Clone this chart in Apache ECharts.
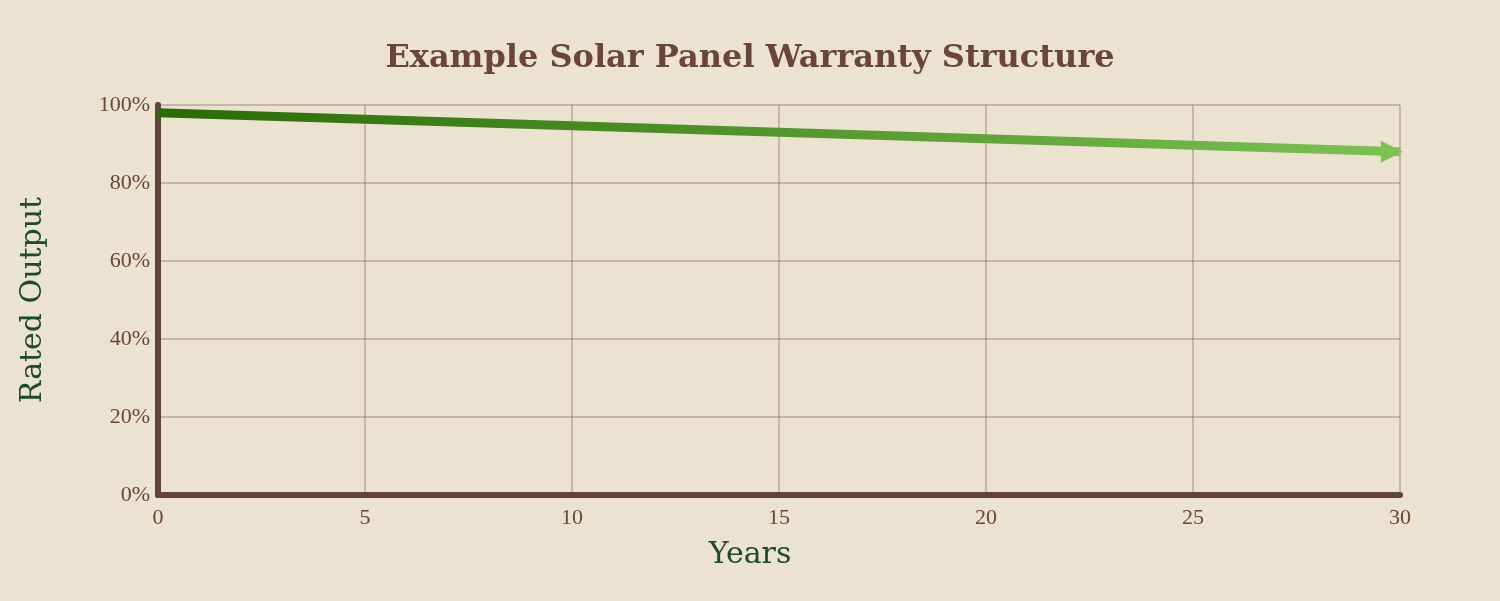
<!doctype html>
<html>
<head>
<meta charset="utf-8">
<title>Example Solar Panel Warranty Structure</title>
<style>
  html, body { margin: 0; padding: 0; background: #ebe2d0; }
  #main { width: 1500px; height: 601px; }
</style>
</head>
<body>
<div id="main"></div>
<script src="https://cdn.jsdelivr.net/npm/echarts@6/dist/echarts.min.js"></script>
<script>
var years = [0, 30];
var ratedOutput = [98, 88];
var yearTicks = [0, 5, 10, 15, 20, 25, 30];
var percentTicks = [0, 20, 40, 60, 80, 100];

var chart = echarts.init(document.getElementById('main'));
var brown = '#634337';
var gridColor = 'rgba(120,100,90,0.45)';

chart.setOption({
    backgroundColor: '#ebe2d0',
    title: {
        text: 'Example Solar Panel Warranty Structure',
        left: 'center',
        top: 38,
        textStyle: { fontFamily: 'DejaVu Serif', fontWeight: 'bold', fontSize: 32, color: '#6b4535' }
    },
    graphic: [{
        type: 'text',
        left: 'center',
        top: 540,
        style: { text: 'Years', fontFamily: 'DejaVu Serif', fontSize: 30, fill: '#1f4a2a' }
    }],
    grid: { left: 158, right: 100, top: 105, bottom: 106 },
    xAxis: {
        type: 'value',
        min: yearTicks[0],
        max: yearTicks[yearTicks.length - 1],
        interval: 5,
        axisLine: { lineStyle: { color: brown, width: 6 } },
        axisTick: { show: false },
        axisLabel: { fontFamily: 'Liberation Serif', fontSize: 22, color: '#6b4535', margin: 12 },
        splitLine: { lineStyle: { color: gridColor, width: 1.5 } }
    },
    yAxis: {
        type: 'value',
        min: percentTicks[0],
        max: percentTicks[percentTicks.length - 1],
        interval: 20,
        name: 'Rated Output',
        nameLocation: 'middle',
        nameGap: 110,
        nameTextStyle: { fontFamily: 'DejaVu Serif', fontSize: 30, color: '#1f4a2a' },
        axisLine: { show: true, lineStyle: { color: brown, width: 6 } },
        axisTick: { show: false },
        axisLabel: { formatter: '{value}%', fontFamily: 'Liberation Serif', fontSize: 22, color: '#6b4535', margin: 8 },
        splitLine: { lineStyle: { color: gridColor, width: 1.5 } }
    },
    series: [{
        type: 'line',
        data: [],
        markLine: {
            silent: true,
            symbol: ['none', 'none'],
            label: { show: false },
            lineStyle: {
                type: 'solid',
                width: 9,
                color: new echarts.graphic.LinearGradient(0, 0, 1, 0, [
                    { offset: 0, color: '#2a6a06' },
                    { offset: 1, color: '#7cc255' }
                ])
            },
            data: [[
                { coord: [years[0], ratedOutput[0]] },
                { coord: [years[1], ratedOutput[1]] }
            ]]
        },
        markPoint: {
            silent: true,
            symbol: 'triangle',
            symbolSize: [22, 22],
            symbolRotate: -90,
            label: { show: false },
            itemStyle: { color: '#7cc255' },
            data: [{ coord: [years[1] - 0.2, ratedOutput[1]] }]
        }
    }]
});
</script>
</body>
</html>
